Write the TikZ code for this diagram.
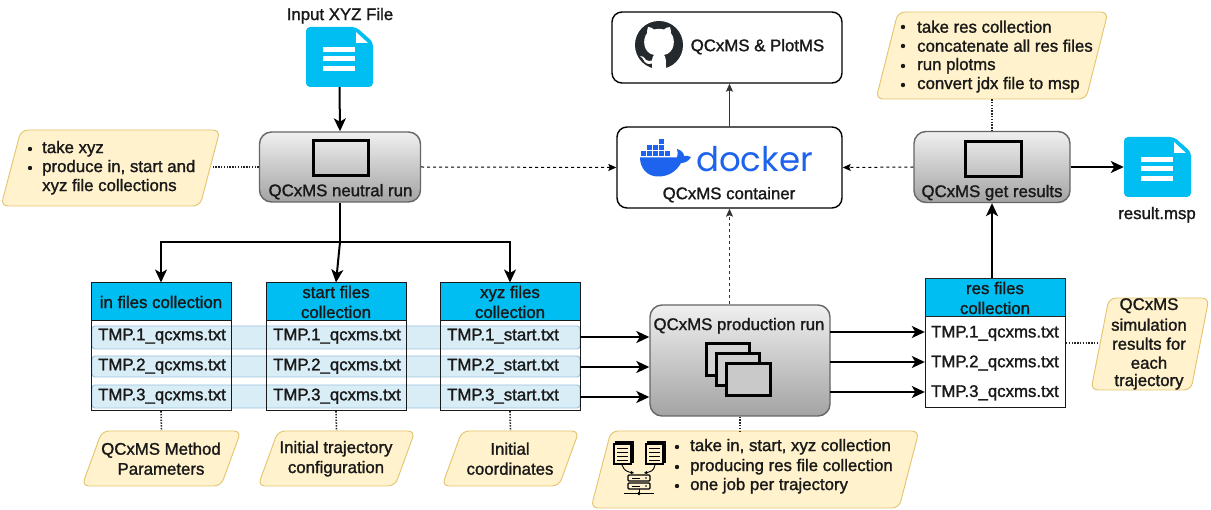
\documentclass[tikz,border=0pt]{standalone}
\usepackage{fontspec}
\setmainfont[FakeBold=1.4]{Liberation Sans}
\newfontfamily\dockerfont{Poppins}
\usetikzlibrary{arrows.meta,calc}
\definecolor{notefill}{HTML}{FFF2CC}
\definecolor{notedraw}{HTML}{E3C46E}
\definecolor{fileblue}{HTML}{00BEF2}
\definecolor{rowfill}{HTML}{D9EDF6}
\definecolor{rowdraw}{HTML}{9CC3DC}
\definecolor{dockerblue}{HTML}{1D63ED}
\definecolor{ghdark}{HTML}{24292E}
\tikzset{
  txt/.style={font=\fontsize{16.8}{20}\selectfont,inner sep=0pt,text=black!90,align=center,yshift=-.7pt},
  run/.style={draw=black!60,line width=1.4pt,rounded corners=12pt,top color=black!6,bottom color=black!36,inner sep=0pt},
  whitebox/.style={draw=black,line width=1.4pt,rounded corners=10pt,fill=white,inner sep=0pt},
  win/.style={draw=black,line width=3pt,inner sep=0pt},
  hdr/.style={draw=black!85,line width=1pt,fill=fileblue,inner sep=0pt,font=\fontsize{16.8}{20}\selectfont,align=center,text=black!90},
  tbl/.style={draw=black!90,line width=1pt,inner sep=0pt},
  rowbar/.style={draw=rowdraw,line width=.9pt,fill=rowfill,rounded corners=3pt},
  notebg/.style={draw=notedraw,line width=.9pt,fill=notefill,rounded corners=7pt},
  flow/.style={draw=black,line width=2pt,-{Stealth[length=13pt,width=12pt,inset=3.5pt]}},
  thin dash/.style={draw=black,line width=1pt,dash pattern=on 3pt off 3pt,-{Stealth[length=8pt,width=7pt,inset=1.5pt]}},
  note link/.style={draw=black!85,line width=1.6pt,dash pattern=on 1.4pt off 1.4pt},
  anch/.style={inner sep=0pt,minimum size=0pt},
}
% parallelogram note: name, x1,y1,x2,y2, slant
\newcommand{\notebox}[6]{%
  \draw[notebg] (#2+#6,#3) -- (#4,#3) -- (#4-#6,#5) -- (#2,#5) -- cycle;
  \node[anch,minimum width=#4-#2,minimum height=#5-#3] (#1) at ({(#2+#4)/2},{(#3+#5)/2}) {};
}
% file icon: name, left x, top y, width, height
\newcommand{\fileicon}[5]{%
  \fill[fileblue,rounded corners=4pt] (#2,#3) -- (#2+#4-17,#3) -- (#2+#4,#3+15) -- (#2+#4,#3+#5) -- (#2,#3+#5) -- cycle;
  \fill[white] (#2+#4-17,#3+5) -- (#2+#4-5,#3+16) -- (#2+#4-17,#3+16) -- cycle;
  \fill[white] (#2+17,#3+20) rectangle (#2+49,#3+25);
  \fill[white] (#2+17,#3+29.5) rectangle (#2+49,#3+34.5);
  \fill[white] (#2+17,#3+39) rectangle (#2+49,#3+44);
  \node[anch,minimum width=#4,minimum height=#5] (#1) at (#2+#4/2,#3+#5/2) {};
}
\newcommand{\bul}[2]{%
  \fill[black!90] (#1,#2) circle (2.2pt);
}
\newcommand{\minidoc}[2]{%
  \draw[black,line width=1.1pt,fill=notefill] (#1+2,#2) rectangle (#1+19,#2+20);
  \draw[black,line width=1.1pt,fill=notefill] (#1,#2+2) rectangle (#1+17,#2+22);
  \foreach \q in {6,10,14,18}{\draw[black,line width=.8pt] (#1+3,#2+\q) -- (#1+14,#2+\q);}
}
\begin{document}
\begin{tikzpicture}[x=1pt,y=-1pt]
\useasboundingbox (0,0) rectangle (1211,510);
\fill[white] (0,0) rectangle (1211,510);

% ---- file icons
\node[txt] (inputlbl) at (340,15) {Input XYZ File};
\fileicon{inputfile}{306}{27}{67}{60}
\fileicon{resultfile}{1124}{137}{67}{60}
\node[txt] (resultlbl) at (1157,214) {result.msp};

% ---- notes
\notebox{notexyz}{1}{130}{220}{206}{20}
\notebox{noteres}{876}{12}{1108}{99}{22}
\notebox{notein}{82}{431}{241}{486}{20}
\notebox{notestart}{258}{431}{415}{486}{20}
\notebox{notecoord}{442}{431}{579}{486}{20}
\notebox{noteprod}{591}{431}{919}{508}{20}
\notebox{notesim}{1091}{298}{1209}{390}{18}

\foreach \y/\t in {148/take xyz,167/{produce in, start and},186/{xyz file collections}}
  \node[txt,anchor=west] at (42,\y) {\t};
\bul{30}{149}\bul{30}{168}

\foreach \y/\t in {26/take res collection,45/concatenate all res files,65/run plotms,84/convert jdx file to msp}{
  \node[txt,anchor=west] at (917,\y) {\t};
  \bul{903}{\y+1}
}
\node[txt] at (161,458) {QCxMS Method\\Parameters};
\node[txt] at (336,458) {Initial trajectory\\configuration};
\node[txt] at (510,458) {Initial\\coordinates};
\foreach \y/\t in {446/{take in, start, xyz collection},466/producing res file collection,485/one job per trajectory}{
  \node[txt,anchor=west] at (690,\y) {\t};
  \bul{677}{\y+1}
}
\foreach \y/\t in {305/QCxMS,324/simulation,343/results for,362/each,381/trajectory}
  \node[txt] at (1149,\y) {\t};

% mini icons in production note
\minidoc{614}{442}
\minidoc{646}{442}
\draw[black,line width=.9pt,-{Stealth[length=3.5pt,width=3.5pt]}] (622,465) .. controls (624,471) and (628,472) .. (634,473);
\draw[black,line width=.9pt,-{Stealth[length=3.5pt,width=3.5pt]}] (655,465) .. controls (654,471) and (650,472) .. (644,473);
\draw[black,line width=1.1pt,rounded corners=1pt] (628,475) rectangle (650,481);
\draw[black,line width=1.1pt,rounded corners=1pt] (628,483) rectangle (650,489);
\draw[black,line width=.9pt] (624,493.5) -- (654,493.5);
\draw[black,line width=.9pt] (639,489) -- (639,493.5);
\fill[black] (639,493.5) circle (1.8pt);
\foreach \y in {478,486}{\draw[black,line width=.7pt] (632,\y) -- (640,\y); \fill[black] (646,\y) circle (.8pt);}

% ---- row bars (behind tables)
\foreach \a/\b in {326/349,356/377,385/408}
  \draw[rowbar] (92,\a) rectangle (580,\b);

% ---- tables
\foreach \n/\xa/\xb/\t in {in/91/231/in files collection,start/266/406/start files\\collection,xyz/440/580/xyz files\\collection}{
  \node[hdr,minimum width=\xb-\xa,minimum height=38] (\n hdr) at ({(\xa+\xb)/2},302) {\t};
  \draw[tbl] (\xa,283) rectangle (\xb,411);
  \draw[tbl] (\xa,321) -- (\xb,321);
  \node[anch,minimum width=\xb-\xa,minimum height=128] (\n tab) at ({(\xa+\xb)/2},347) {};
}
\foreach \n in {1,2,3}{
  \node[txt] at (162,{305.5+\n*30}) {TMP.\n\_qcxms.txt};
  \node[txt] at (337,{305.5+\n*30}) {TMP.\n\_qcxms.txt};
  \node[txt] at (503,{305.5+\n*30}) {TMP.\n\_start.txt};
}
% res table
\draw[tbl,fill=white] (925,279) rectangle (1065,408);
\node[hdr,minimum width=140,minimum height=38] (reshdr) at (995,298) {res files\\collection};
\node[anch,minimum width=140,minimum height=129] (restab) at (995,343.5) {};
\foreach \n in {1,2,3}
  \node[txt] at (995,{303+\n*29.7}) {TMP.\n\_qcxms.txt};

% ---- run boxes
\node[run,minimum width=161,minimum height=70] (neutral) at (340,167) {};
\node[win,minimum width=55,minimum height=35] at (340.5,158.5) {};
\node[txt] at (340.5,191) {QCxMS neutral run};

\node[run,minimum width=156,minimum height=71] (getres) at (992,167) {};
\node[win,minimum width=56,minimum height=35] at (993,159.5) {};
\node[txt] at (992,192) {QCxMS get results};

\node[run,minimum width=180,minimum height=111] (prod) at (740,360.5) {};
\node[txt] at (739,325) {QCxMS production run};
\node[win,fill=black!17,minimum width=43,minimum height=32] at (727.5,360) {};
\node[win,fill=black!19,minimum width=43,minimum height=32] at (738,370) {};
\node[win,fill=black!21,minimum width=44,minimum height=32] at (748,380) {};

% ---- white boxes
\node[whitebox,minimum width=230,minimum height=71] (gh) at (727,47.5) {};
\node[txt] (ghlbl) at (757.5,46) {QCxMS \& PlotMS};
\begin{scope}[shift={(659,45)}]
  \fill[ghdark] (0,0) circle (24);
  \fill[white] (-11,-18) .. controls (-9,-18.5) and (-6,-16.5) .. (-5,-15.5)
    .. controls (-2,-16.3) and (2,-16.3) .. (5,-15.5)
    .. controls (6,-16.5) and (9,-18.5) .. (11,-18)
    .. controls (12,-15) and (12,-13) .. (11.8,-12)
    .. controls (17,-6) and (16,8) .. (5,10)
    .. controls (7,12) and (7,16) .. (7,24) -- (-7,24)
    .. controls (-7,21) and (-7,20) .. (-7,18.5)
    .. controls (-12,20) and (-14,18) .. (-16,14)
    .. controls (-17,12.5) and (-18,12) .. (-19,11)
    .. controls (-17,10.5) and (-15,12) .. (-13,15)
    .. controls (-11,16.5) and (-9,16) .. (-7,15.5)
    .. controls (-7,13) and (-6,11) .. (-5,10)
    .. controls (-16,8) and (-17,-6) .. (-11.8,-12)
    .. controls (-12,-13) and (-12,-15) .. (-11,-18) -- cycle;
\end{scope}

\node[whitebox,minimum width=225,minimum height=81] (docker) at (729.5,167.5) {};
\node[txt] (dockerlbl) at (729,194) {QCxMS container};
\begin{scope}
  % whale
  \fill[dockerblue] (640,157.5) -- (677,157.5) .. controls (678,154) and (678,152) .. (677,149)
     .. controls (681,150) and (684,153) .. (684,156)
     .. controls (686,155.5) and (688,155.5) .. (691,157)
     .. controls (689,161) and (685,163) .. (681,163)
     .. controls (676,172) and (668,176.5) .. (658,176.5)
     .. controls (647,176.5) and (640,168) .. (640,157.5) -- cycle;
  \foreach \cx/\cy in {641/151,647/151,653/151,659/151,665/151,647/145,653/145,659/145,659/139}
    \fill[dockerblue] (\cx,\cy) rectangle ++(5,5);
  \node[font=\dockerfont\fontsize{34}{34}\selectfont,text=dockerblue,inner sep=0pt,anchor=base west] (dockerword) at (696,172) {docker};
\end{scope}

% ---- connectors
\draw[flow] (inputfile.south) -- (neutral.north);
\coordinate (busa) at (340,242);
\draw[draw=black,line width=2pt] (neutral.south) -- (busa);
\draw[flow] (busa) -- (161,242) -- (inhdr.north);
\draw[flow] (busa) -- (starthdr.north);
\draw[flow] (busa) -- (510,242) -- (xyzhdr.north);

\draw[thin dash] (neutral.east) -- (docker.west);
\draw[thin dash] (getres.west) -- (docker.east);
\draw[thin dash,black!80] (prod.north -| docker.south) -- (docker.south);
\draw[draw=black!80,line width=.9pt,-{Stealth[length=8pt,width=7pt,inset=1.5pt]}] (docker.north) -- (gh.south -| docker.north);
\draw[flow] (getres.east) -- (resultfile.west);
\draw[flow] (reshdr.north -| getres.south) -- (getres.south);

\foreach \y in {337,367,397}{
  \coordinate (in\y) at (580,\y);
  \draw[flow] (in\y) -- (in\y -| prod.west);
}
\foreach \y in {332,362,392}{
  \coordinate (out\y) at (830,\y);
  \draw[flow] (out\y) -- (out\y -| restab.west);
}

\coordinate (linkxyz) at (212,167);
\coordinate (linksima) at (1066,343);
\coordinate (linksimb) at (1099,343);
\draw[note link] (neutral.west) -- (linkxyz);
\draw[note link] (noteres.south) -- (getres.north -| noteres.south);
\draw[note link] (intab.south) -- (notein.north);
\draw[note link] (starttab.south) -- (notestart.north);
\draw[note link] (xyztab.south) -- (notecoord.north);
\draw[note link] (prod.south) -- (prod.south |- noteprod.north);
\draw[note link] (linksima) -- (linksimb);
\end{tikzpicture}
\end{document}
